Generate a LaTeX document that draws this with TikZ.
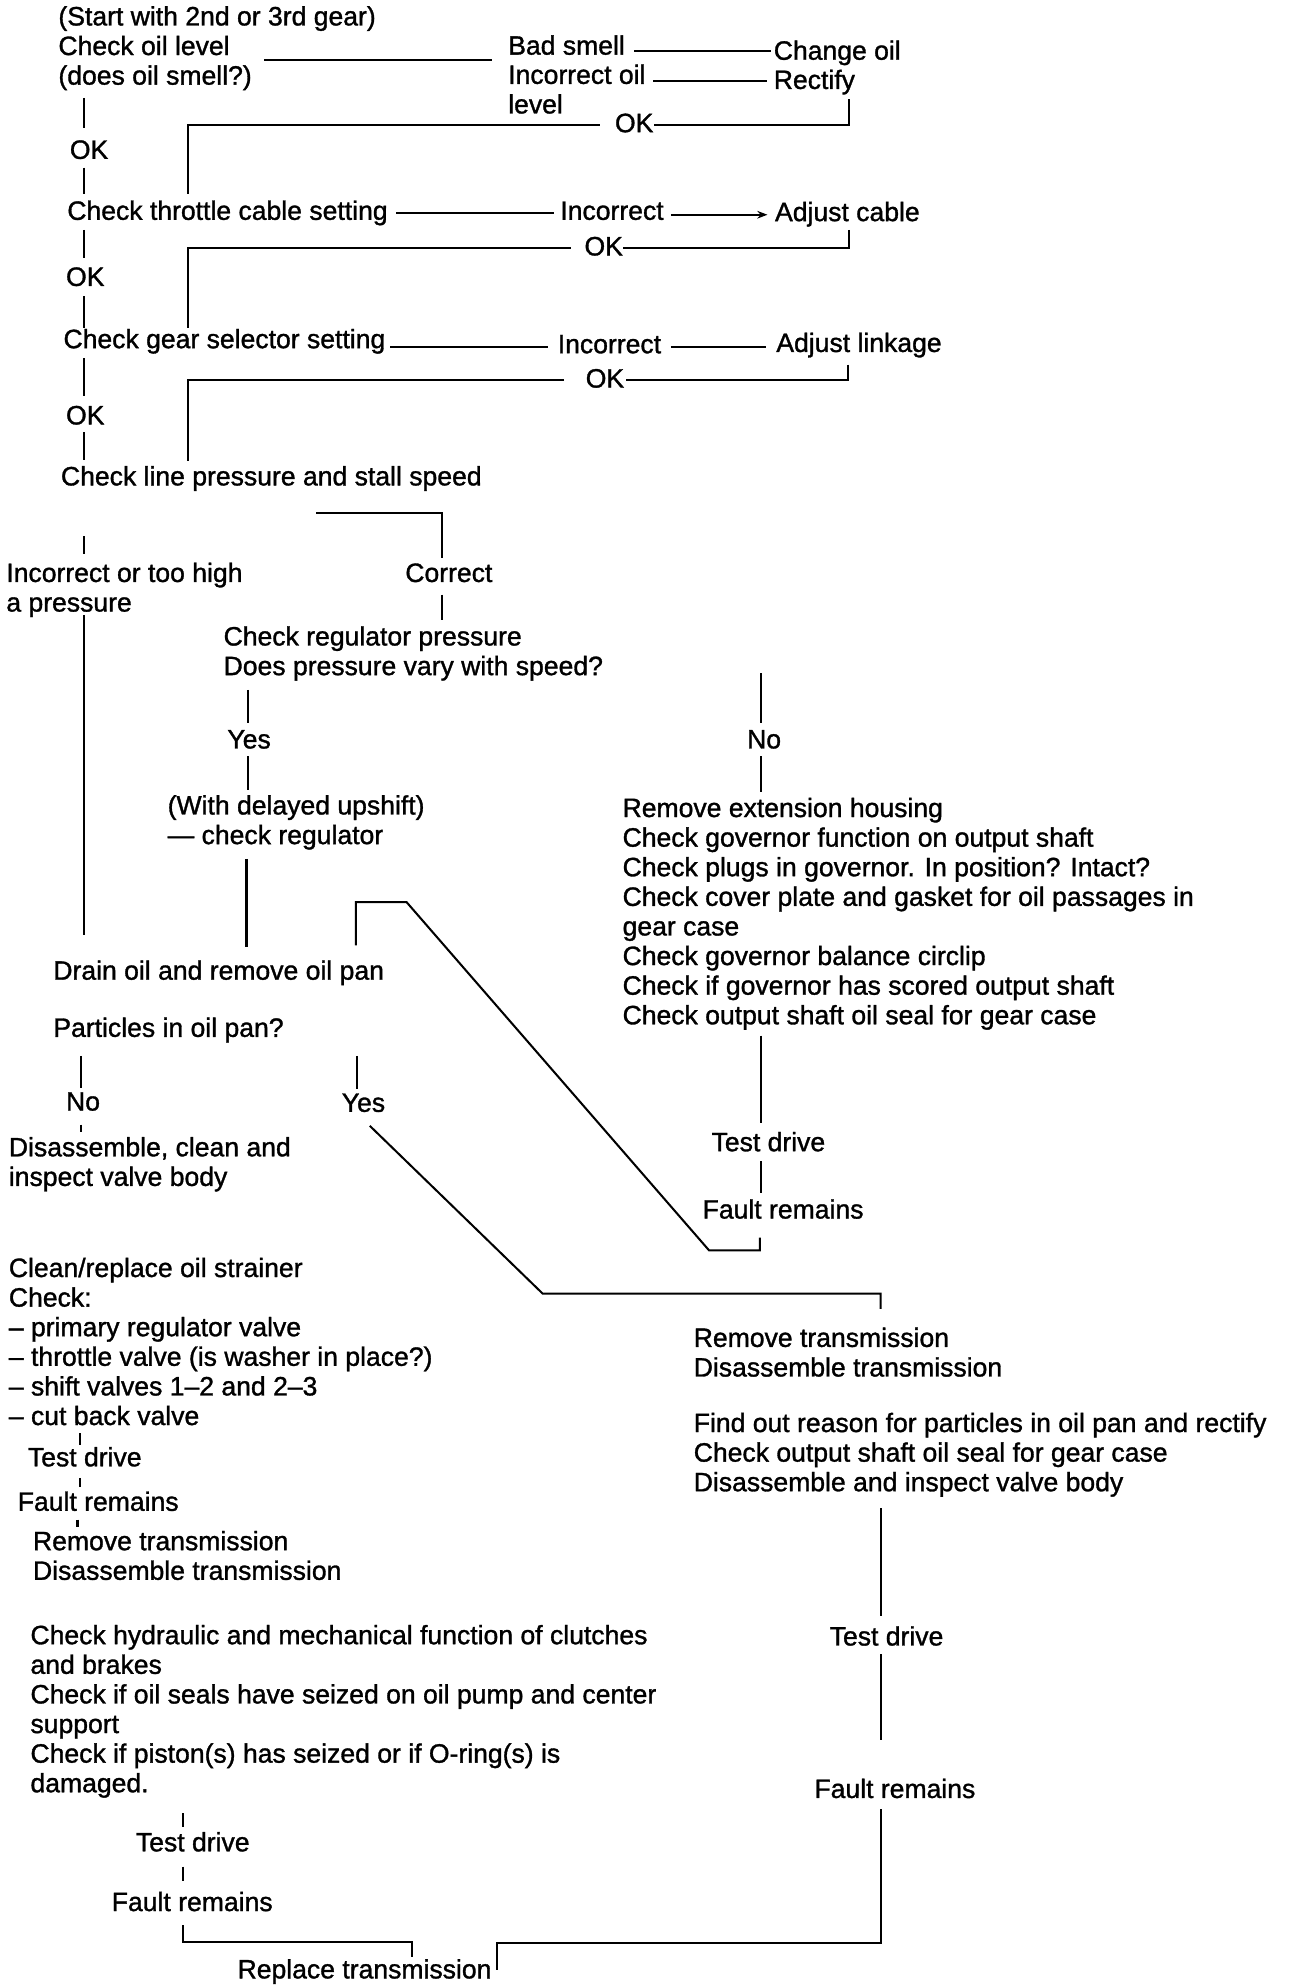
\documentclass[tikz,border=0pt]{standalone}
\usepackage{fontspec}
\setmainfont{Liberation Sans}[FakeBold=1.2]
\usetikzlibrary{arrows.meta}
\newcommand\fl{\rule{0pt}{9pt}}
\begin{document}
\begin{tikzpicture}[x=0.5pt,y=-0.5pt,
  tx/.style={anchor=north west,inner sep=0pt,outer sep=0pt,yshift=9pt,align=left,font=\fontsize{10.45}{11.65}\selectfont},
  ln/.style={line width=0.8pt},
  ar/.style={ln,-{Stealth[length=4pt,width=3pt]}}]
\useasboundingbox[fill=white] (0,0) rectangle (1020,1563);

% ---------- text ----------
\node[tx] (start) at (46,20) {\fl(Start with 2nd or 3rd gear)\\Check oil level\\(does oil smell?)};
\node[tx] (bad) at (400,43) {\fl Bad smell};
\node[tx] (incoil) at (400,66) {\fl Incorrect oil\\level};
\node[tx] (change) at (609,47) {\fl Change oil};
\node[tx] (rect) at (609,70) {\fl Rectify};
\node[tx] (ok1) at (484,104) {\fl OK};
\node[tx] (okl1) at (55,125) {\fl OK};
\node[tx] (thr) at (53,173) {\fl Check throttle cable setting};
\node[tx] (inc1) at (441,173) {\fl Incorrect};
\node[tx] (adjc) at (610,174) {\fl Adjust cable};
\node[tx] (ok2) at (460,201) {\fl OK};
\node[tx] (okl2) at (52,225) {\fl OK};
\node[tx] (gear) at (50,274) {\fl Check gear selector setting};
\node[tx] (inc2) at (439,278) {\fl Incorrect};
\node[tx] (adjl) at (611,277) {\fl Adjust linkage};
\node[tx] (ok3) at (461,305) {\fl OK};
\node[tx] (okl3) at (52,334) {\fl OK};
\node[tx] (line) at (48,382) {\fl Check line pressure and stall speed};
\node[tx] (high) at (5,458) {\fl Incorrect or too high\\a pressure};
\node[tx] (corr) at (319,458) {\fl Correct};
\node[tx] (reg) at (176,508) {\fl Check regulator pressure\\Does pressure vary with speed?};
\node[tx] (yes1) at (179,589) {\fl Yes};
\node[tx] (no1) at (588,589) {\fl No};
\node[tx] (upsh) at (132,641) {\fl (With delayed upshift)\\— check regulator};
\node[tx] (gov) at (490,643) {\fl Remove extension housing\\Check governor function on output shaft\\Check plugs in governor. In position? Intact?\\Check cover plate and gasket for oil passages in\\gear case\\Check governor balance circlip\\Check if governor has scored output shaft\\Check output shaft oil seal for gear case};
\node[tx] (drain) at (42,771) {\fl Drain oil and remove oil pan};
\node[tx] (part) at (42,816) {\fl Particles in oil pan?};
\node[tx] (no2) at (52,874) {\fl No};
\node[tx] (yes2) at (269,875) {\fl Yes};
\node[tx] (disv) at (7,910) {\fl Disassemble, clean and\\inspect valve body};
\node[tx] (td1) at (560,906) {\fl Test drive};
\node[tx] (fr1) at (553,959) {\fl Fault remains};
\node[tx] (strn) at (7,1005) {\fl Clean/replace oil strainer\\Check:\\– primary regulator valve\\– throttle valve (is washer in place?)\\– shift valves 1–2 and 2–3\\– cut back valve};
\node[tx] (rem1) at (546,1060) {\fl Remove transmission\\Disassemble transmission};
\node[tx] (find) at (546,1127) {\fl Find out reason for particles in oil pan and rectify\\Check output shaft oil seal for gear case\\Disassemble and inspect valve body};
\node[tx] (td2) at (22,1154) {\fl Test drive};
\node[tx] (fr2) at (14,1189) {\fl Fault remains};
\node[tx] (rem2) at (26,1220) {\fl Remove transmission\\Disassemble transmission};
\node[tx] (hyd) at (24,1294) {\fl Check hydraulic and mechanical function of clutches\\and brakes\\Check if oil seals have seized on oil pump and center\\support\\Check if piston(s) has seized or if O-ring(s) is\\damaged.};
\node[tx] (td3) at (653,1295) {\fl Test drive};
\node[tx] (fr3) at (641,1415) {\fl Fault remains};
\node[tx] (td4) at (107,1457) {\fl Test drive};
\node[tx] (fr4) at (88,1504) {\fl Fault remains};
\node[tx] (repl) at (187,1557) {\fl Replace transmission};

% ---------- connector points ----------
\coordinate (a1) at (208,47);  \coordinate (a2) at (387,47);
\coordinate (b1) at (499,40);  \coordinate (b2) at (607,40);
\coordinate (c1) at (514,64);  \coordinate (c2) at (604,64);
\coordinate (d1) at (668,78);  \coordinate (d2) at (668,98.5); \coordinate (d3) at (515,98.5);
\coordinate (d4) at (472,98.5); \coordinate (d5) at (148,98.5); \coordinate (d6) at (148,153);
\coordinate (e1) at (66,77);   \coordinate (e2) at (66,101); \coordinate (e3) at (66,132); \coordinate (e4) at (66,153);
\coordinate (f1) at (312,168); \coordinate (f2) at (436,168);
\coordinate (g1) at (528,169); \coordinate (g2) at (604,169);
\coordinate (h1) at (668,181); \coordinate (h2) at (668,195); \coordinate (h3) at (490,195);
\coordinate (h4) at (449,195); \coordinate (h5) at (148,195); \coordinate (h6) at (148,258);
\coordinate (i1) at (66,181);  \coordinate (i2) at (66,203); \coordinate (i3) at (66,233); \coordinate (i4) at (66,258);
\coordinate (j1) at (307,273); \coordinate (j2) at (431,273);
\coordinate (k1) at (528,273); \coordinate (k2) at (603,273);
\coordinate (l1) at (667,287); \coordinate (l2) at (667,299); \coordinate (l3) at (493,299);
\coordinate (l4) at (444,299); \coordinate (l5) at (148,299); \coordinate (l6) at (148,363);
\coordinate (m1) at (66,282);  \coordinate (m2) at (66,312); \coordinate (m3) at (66,340); \coordinate (m4) at (66,362);
\coordinate (n1) at (249,403.5); \coordinate (n2) at (348,403.5); \coordinate (n3) at (348,439);
\coordinate (o1) at (66,422);  \coordinate (o2) at (66,436);
\coordinate (p1) at (348,468); \coordinate (p2) at (348,488);
\coordinate (q1) at (66,484);  \coordinate (q2) at (66,736);
\coordinate (r1) at (195,543); \coordinate (r2) at (195,569); \coordinate (r3) at (195,595); \coordinate (r4) at (195,622);
\coordinate (s1) at (599,530); \coordinate (s2) at (599,569); \coordinate (s3) at (599,595); \coordinate (s4) at (599,623);
\coordinate (u1) at (194,676); \coordinate (u2) at (194,745);
\coordinate (v1) at (280,744); \coordinate (v2) at (280,710); \coordinate (v3) at (320,710);
\coordinate (v4) at (558,984); \coordinate (v5) at (598,984); \coordinate (v6) at (598,974);
\coordinate (w1) at (599,815); \coordinate (w2) at (599,884); \coordinate (w3) at (599,914); \coordinate (w4) at (599,939);
\coordinate (x1) at (64,831);  \coordinate (x2) at (64,856); \coordinate (x3) at (64,885); \coordinate (x4) at (64,891);
\coordinate (y1) at (281,831); \coordinate (y2) at (281,857); \coordinate (y3) at (291,886);
\coordinate (y4) at (427,1018); \coordinate (y5) at (693,1018); \coordinate (y6) at (693,1030);
\coordinate (z1) at (63,1128); \coordinate (z2) at (63,1137);
\coordinate (z3) at (63,1163); \coordinate (z4) at (63,1170);
\coordinate (z5) at (61,1196); \coordinate (z6) at (61,1202);
\coordinate (R1) at (693,1187); \coordinate (R2) at (693,1272); \coordinate (R3) at (693,1302);
\coordinate (R4) at (693,1369); \coordinate (R5) at (693,1424); \coordinate (R6) at (693,1529);
\coordinate (R7) at (391,1529); \coordinate (R8) at (391,1550);
\coordinate (L1) at (144,1427); \coordinate (L2) at (144,1438);
\coordinate (L3) at (144,1469); \coordinate (L4) at (144,1480);
\coordinate (L5) at (144,1515); \coordinate (L6) at (144,1528); \coordinate (L7) at (324,1528); \coordinate (L8) at (324,1540);

% ---------- connectors ----------
\draw[ln] (a1) -- (a2);
\draw[ln] (b1) -- (b2);
\draw[ln] (c1) -- (c2);
\draw[ln] (d1) -- (d2) -- (d3);
\draw[ln] (d4) -- (d5) -- (d6);
\draw[ln] (e1) -- (e2);
\draw[ln] (e3) -- (e4);
\draw[ln] (f1) -- (f2);
\draw[ar] (g1) -- (g2);
\draw[ln] (h1) -- (h2) -- (h3);
\draw[ln] (h4) -- (h5) -- (h6);
\draw[ln] (i1) -- (i2);
\draw[ln] (i3) -- (i4);
\draw[ln] (j1) -- (j2);
\draw[ln] (k1) -- (k2);
\draw[ln] (l1) -- (l2) -- (l3);
\draw[ln] (l4) -- (l5) -- (l6);
\draw[ln] (m1) -- (m2);
\draw[ln] (m3) -- (m4);
\draw[ln] (n1) -- (n2) -- (n3);
\draw[ln] (o1) -- (o2);
\draw[ln] (p1) -- (p2);
\draw[ln] (q1) -- (q2);
\draw[ln] (r1) -- (r2);
\draw[ln] (r3) -- (r4);
\draw[ln] (s1) -- (s2);
\draw[ln] (s3) -- (s4);
\draw[ln] (u1) -- (u2);
\draw[ln] (v1) -- (v2) -- (v3) -- (v4) -- (v5) -- (v6);
\draw[ln] (w1) -- (w2);
\draw[ln] (w3) -- (w4);
\draw[ln] (x1) -- (x2);
\draw[ln] (x3) -- (x4);
\draw[ln] (y1) -- (y2);
\draw[ln] (y3) -- (y4) -- (y5) -- (y6);
\draw[ln] (z1) -- (z2);
\draw[ln] (z3) -- (z4);
\draw[ln] (z5) -- (z6);
\draw[ln] (R1) -- (R2);
\draw[ln] (R3) -- (R4);
\draw[ln] (R5) -- (R6) -- (R7) -- (R8);
\draw[ln] (L1) -- (L2);
\draw[ln] (L3) -- (L4);
\draw[ln] (L5) -- (L6) -- (L7) -- (L8);
\end{tikzpicture}
\end{document}
